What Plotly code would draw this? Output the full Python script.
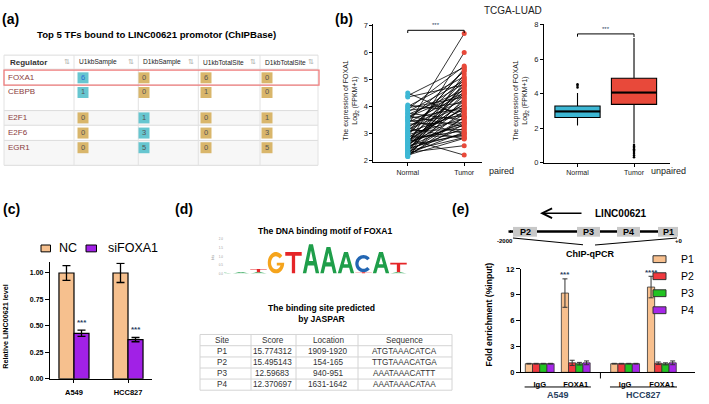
import math
import plotly.graph_objects as go

W, H = 709, 404
FONT = "Arial, Liberation Sans, Helvetica, sans-serif"


def px(x):
    return x / W


def py(y):
    return 1 - y / H


# ======================= DATA =======================
# (a) ChIPBase table
regulators = ["FOXA1", "CEBPB", "E2F1", "E2F6", "EGR1"]
table_a_headers = ["Regulator", "U1kbSample", "D1kbSample", "U1kbTotalSite", "D1kbTotalSite"]
u1kb_sample = [6, 1, 0, 0, 0]
d1kb_sample = [0, 0, 1, 3, 5]
u1kb_total_site = [6, 1, 0, 0, 0]
d1kb_total_site = [0, 0, 1, 3, 5]

# (b) TCGA-LUAD paired (normal -> tumor), log2(FPKM+1)
paired_normal = [3.30, 2.60, 4.40, 3.90, 2.90, 3.50, 2.30, 4.00, 3.10, 2.70,
                 3.80, 2.20, 3.60, 2.50, 3.20, 4.50, 2.40, 3.00, 3.70, 2.80,
                 2.35, 3.40, 2.65, 3.95, 2.15, 3.25, 2.55, 3.85, 2.75, 3.15,
                 2.45, 3.55, 2.85, 2.25, 4.05, 3.05, 2.60, 3.45, 2.30, 2.95,
                 3.75, 2.50, 3.35, 2.20, 2.70, 3.65, 2.40, 3.10, 2.80, 2.25,
                 3.50, 2.55, 2.90, 2.35, 3.20, 2.30, 2.80, 4.35, 3.00, 2.45,
                 2.20, 2.65, 3.60, 2.15, 2.75]
paired_tumor = [6.70, 6.00, 5.45, 5.50, 5.40, 5.30, 5.20, 5.10, 5.05, 5.00,
                4.95, 4.90, 4.85, 4.80, 4.75, 3.60, 4.70, 4.65, 4.60, 4.55,
                4.50, 4.45, 4.40, 4.35, 4.30, 4.25, 4.20, 4.15, 4.10, 4.05,
                4.00, 3.95, 3.90, 3.85, 3.80, 3.75, 3.70, 3.65, 3.60, 3.55,
                3.50, 3.45, 3.40, 3.35, 3.30, 3.25, 3.20, 3.15, 3.10, 3.05,
                3.00, 2.95, 2.90, 2.85, 2.80, 2.55, 2.20, 4.80, 5.35, 3.00,
                2.82, 3.38, 4.50, 3.60, 3.95]
paired_groups = ["Normal", "Tumor"]

# (b) TCGA-LUAD unpaired box plot
box_groups = ["Normal", "Tumor"]
box_q1 = [2.62, 3.38]
box_median = [2.97, 4.06]
box_q3 = [3.28, 4.89]
box_lowerfence = [2.15, 1.11]
box_upperfence = [4.04, 7.22]
normal_outliers = [4.35, 4.45, 4.55]
tumor_outliers = [0.32, 0.42, 0.52, 0.62, 0.70, 0.78, 0.86, 0.94, 1.02]

# (c) qPCR after FOXA1 knockdown
cell_lines = ["A549", "HCC827"]
nc_values = [1.00, 1.00]
nc_err = [0.07, 0.09]
si_values = [0.43, 0.37]
si_err = [0.03, 0.02]
c_ticks = [0.00, 0.25, 0.50, 0.75, 1.00]

# (d) motif logo (position, letter, base in bits, height in bits)
motif_pos = [1, 2, 3, 4, 5, 6, 7, 8, -2, -1, 0, 0, 6, 8]
motif_letter = ["G", "T", "A", "A", "A", "C", "A", "T", "A", "A", "A", "T", "T", "A"]
motif_base = [0.0, 0.0, 0.0, 0.0, 0.0, 0.08, 0.0, 0.08, 0.0, 0.0, 0.0, 0.07, 0.0, 0.0]
motif_height = [1.26, 1.26, 1.72, 1.55, 1.26, 1.0, 1.26, 0.55, 0.05, 0.07, 0.07, 0.2, 0.08, 0.08]
motif_axis_dots = [-1, 0, 1, 2, 3, 4, 5, 6, 7, 8, 9]

# (d) JASPAR table
jaspar_sites = ["P1", "P2", "P3", "P4"]
jaspar_scores = ["15.774312", "15.495143", "12.59683", "12.370697"]
jaspar_locations = ["1909-1920", "154-165", "940-951", "1631-1642"]
jaspar_sequences = ["ATGTAAACATCA", "TTGTAAACATGA", "AAATAAACATTT", "AAATAAACATAA"]
jaspar_headers = ["Site", "Score", "Location", "Sequence"]

# (e) ChIP-qPCR
chip_groups = ["IgG", "FOXA1", "IgG", "FOXA1"]
chip_positions = [0, 1, 2.37, 3.39]
chip_cells = ["A549", "HCC827"]
chip_series = ["P1", "P2", "P3", "P4"]
chip_values = {
    "P1": [1.00, 9.20, 1.00, 9.90],
    "P2": [1.00, 1.10, 1.00, 1.05],
    "P3": [1.00, 1.00, 1.00, 0.98],
    "P4": [1.00, 1.10, 1.00, 1.10],
}
chip_err = {
    "P1": [0.04, 1.65, 0.04, 1.25],
    "P2": [0.04, 0.30, 0.04, 0.15],
    "P3": [0.04, 0.15, 0.04, 0.12],
    "P4": [0.04, 0.22, 0.04, 0.22],
}
chip_stars = ["***", "****"]
e_ticks = [0, 3, 6, 9, 12]

# ======================= STYLE =======================
TEAL = "#67c6d0"
TAN = "#d9b66b"
NORMAL_C = "#3db7d4"
TUMOR_C = "#e8493a"
NC_C = "#f6c08e"
SI_C = "#a121e6"
CHIP_COLORS = {"P1": "#f8c08e", "P2": "#f0393f", "P3": "#22c322", "P4": "#a626e8"}
LOGO_COLORS = {"A": "#1f9e4a", "C": "#2266b3", "G": "#f5a41c", "T": "#e52528"}

fig = go.Figure()
annotations = []
shapes = []


def ann(text, x, y, size, bold=False, color="black", xanchor="center",
        yanchor="middle", textangle=0):
    annotations.append(dict(
        text=text, x=px(x), y=py(y), xref="paper", yref="paper", showarrow=False,
        font=dict(size=size, color=color, family=FONT, weight="bold" if bold else "normal"),
        xanchor=xanchor, yanchor=yanchor, textangle=textangle))


def pline(x0, y0, x1, y1, color="black", width=1, layer="above"):
    shapes.append(dict(type="line", xref="paper", yref="paper", layer=layer,
                       x0=px(x0), y0=py(y0), x1=px(x1), y1=py(y1),
                       line=dict(color=color, width=width)))


def prect(x0, y0, x1, y1, fill=None, color=None, width=0, layer="above"):
    shapes.append(dict(type="rect", xref="paper", yref="paper", layer=layer,
                       x0=px(x0), y0=py(y0), x1=px(x1), y1=py(y1),
                       fillcolor=fill if fill else "rgba(0,0,0,0)",
                       line=dict(color=color if color else "rgba(0,0,0,0)", width=width)))


# panel labels
ann("(a)", 10.5, 15, 14, True)
ann("(b)", 344, 15, 14, True)
ann("(c)", 11.5, 210, 14, True)
ann("(d)", 184, 210, 14, True)
ann("(e)", 460.5, 210, 14, True)

# ======================= (a) =======================
ann("Top 5 TFs bound to LINC00621 promotor (ChIPBase)", 156, 31, 9.6, True)
A_COL_X = [83, 144, 206, 267]
A_ROW_Y = [75.5, 90.5, 116.5, 132, 147]
A_LINES_Y = [52.3, 66.7, 83, 109, 124, 139.5, 165]
A_LINES_X = [4, 74, 138.3, 198.3, 260, 318]
for ry0, ry1 in [(109, 124), (139.5, 165)]:
    prect(4, ry0, 318, ry1, fill="#f7f7f7", layer="below")
for yy in A_LINES_Y:
    pline(4, yy, 318, yy, "#dcdcdc", 1, layer="below")
for xx in A_LINES_X:
    pline(xx, 52.3, xx, 165, "#e2e2e2", 1, layer="below")
prect(4, 67.6, 319, 83, color="#f07d7d", width=1.3)

ann(table_a_headers[0], 8, 59.5, 8, True, "#333", xanchor="left")
for i, h in enumerate(table_a_headers[1:]):
    ann(h, A_LINES_X[i + 1] + 3, 59.5, 6.6, False, "#222", xanchor="left")
for xx in A_LINES_X[1:]:
    ann("⇅", xx - 7, 58.5, 7, False, "#aaaaaa")

badge_x, badge_y, badge_t, badge_c, badge_tc = [], [], [], [], []
cols = [u1kb_sample, d1kb_sample, u1kb_total_site, d1kb_total_site]
for ci, col in enumerate(cols):
    for ri, v in enumerate(col):
        badge_x.append(A_COL_X[ci])
        badge_y.append(A_ROW_Y[ri])
        badge_t.append(str(v))
        is_sample = ci < 2
        badge_c.append(TEAL if (is_sample and v > 0) else TAN)
        badge_tc.append("#2a6fd6" if (ci == 0 and ri == 0) else "#555555")
fig.add_trace(go.Scatter(
    x=badge_x, y=badge_y, mode="markers+text", text=badge_t,
    textposition="middle center", textfont=dict(size=7.5, color=badge_tc, family=FONT),
    marker=dict(symbol="square", size=11, color=badge_c, line=dict(width=0)),
    xaxis="x", yaxis="y", showlegend=False, hoverinfo="skip"))
fig.add_trace(go.Scatter(
    x=[8] * len(regulators), y=A_ROW_Y, mode="text", text=regulators,
    textposition="middle right", textfont=dict(size=8, color="#8a3c3c", family=FONT),
    xaxis="x", yaxis="y", showlegend=False, hoverinfo="skip"))

# ======================= (b) paired =======================
ann("TCGA-LUAD", 512.5, 6.5, 10, False, "#222")
lx, ly = [], []
for n, t in zip(paired_normal, paired_tumor):
    lx += [0, 1, None]
    ly += [n, t, None]
fig.add_trace(go.Scatter(x=lx, y=ly, mode="lines", line=dict(color="black", width=0.8),
                         xaxis="x2", yaxis="y2", showlegend=False, hoverinfo="skip"))
fig.add_trace(go.Scatter(x=[0] * len(paired_normal), y=paired_normal, mode="markers",
                         marker=dict(color=NORMAL_C, size=5), xaxis="x2", yaxis="y2",
                         showlegend=False, hoverinfo="skip"))
fig.add_trace(go.Scatter(x=[1] * len(paired_tumor), y=paired_tumor, mode="markers",
                         marker=dict(color=TUMOR_C, size=5), xaxis="x2", yaxis="y2",
                         showlegend=False, hoverinfo="skip"))
shapes.append(dict(type="path", xref="x2", yref="y2",
                   path="M 0,6.72 L 0,6.82 L 1,6.82 L 1,6.72",
                   line=dict(color="black", width=1)))
annotations.append(dict(text="***", x=0.5, y=6.84, xref="x2", yref="y2", showarrow=False,
                        yanchor="bottom", font=dict(size=6, family=FONT)))
ann("The expression of FOXA1<br>Log<sub>2</sub> (FPKM+1)", 351, 99, 7, False, "#222",
    textangle=-90)
ann("paired", 501, 170.5, 9, False, "#222")

# ======================= (b) box =======================
box_cols = [NORMAL_C, TUMOR_C]
for i in range(2):
    fig.add_trace(go.Box(
        x=[i], q1=[box_q1[i]], median=[box_median[i]], q3=[box_q3[i]],
        lowerfence=[box_lowerfence[i]], upperfence=[box_upperfence[i]],
        fillcolor=box_cols[i], line=dict(color="black", width=1.1), width=0.8,
        whiskerwidth=0, boxpoints=False, xaxis="x3", yaxis="y3", showlegend=False,
        hoverinfo="skip"))
    fig.add_trace(go.Scatter(x=[i - 0.4, i + 0.4], y=[box_median[i]] * 2, mode="lines",
                             line=dict(color="black", width=2), xaxis="x3", yaxis="y3",
                             showlegend=False, hoverinfo="skip"))
fig.add_trace(go.Scatter(x=[0] * len(normal_outliers) + [1] * len(tumor_outliers),
                         y=normal_outliers + tumor_outliers, mode="markers",
                         marker=dict(color="black", size=2.5), xaxis="x3", yaxis="y3",
                         showlegend=False, hoverinfo="skip", cliponaxis=False))
shapes.append(dict(type="path", xref="x3", yref="y3",
                   path="M 0,7.3 L 0,7.46 L 1,7.46 L 1,7.28",
                   line=dict(color="black", width=1)))
annotations.append(dict(text="***", x=0.5, y=7.48, xref="x3", yref="y3", showarrow=False,
                        yanchor="bottom", font=dict(size=6, family=FONT)))
ann("The expression of FOXA1<br>Log<sub>2</sub> (FPKM+1)", 521, 99, 7, False, "#222",
    textangle=-90)
ann("unpaired", 668, 170.5, 9, False, "#222")

# ======================= (c) =======================
C_W = 0.278
fig.add_trace(go.Bar(x=list(range(len(cell_lines))), y=nc_values, width=C_W, offset=-C_W,
                     marker=dict(color=NC_C, line=dict(color="black", width=1.2)),
                     error_y=dict(type="data", array=nc_err, color="black", thickness=1.3, width=4),
                     xaxis="x4", yaxis="y4", showlegend=False, hoverinfo="skip"))
fig.add_trace(go.Bar(x=list(range(len(cell_lines))), y=si_values, width=C_W, offset=0,
                     marker=dict(color=SI_C, line=dict(color="black", width=1.2)),
                     error_y=dict(type="data", array=si_err, color="black", thickness=1.3, width=4),
                     xaxis="x4", yaxis="y4", showlegend=False, hoverinfo="skip"))
for i, (v, e) in enumerate(zip(si_values, si_err)):
    annotations.append(dict(text="***", x=i + C_W / 2, y=v + e + 0.01, xref="x4", yref="y4",
                            showarrow=False, yanchor="bottom",
                            font=dict(size=8, family=FONT, weight="bold")))
# legend
prect(41, 246.5, 50.5, 253.5, fill=NC_C, color="black", width=1)
ann("NC", 57, 250, 12.5, False, "black", xanchor="left")
prect(86, 246.5, 96.5, 253.5, fill=SI_C, color="black", width=1)
ann("siFOXA1", 106, 250, 12.5, False, "black", xanchor="left")
ann("Relative LINC00621 level", 6, 330, 7.2, True, "black", textangle=-90)

# ======================= (d) =======================
ann("The DNA binding motif of FOXA1", 325, 232, 8.6, True)


def arc(cx, cy, rx, ry, a0, a1, n=28):
    pts = []
    for k in range(n + 1):
        a = math.radians(a0 + (a1 - a0) * k / n)
        pts.append((cx + rx * math.cos(a), cy + ry * math.sin(a)))
    return pts


GLYPHS = {
    "T": [[(0, 1), (1, 1), (1, 0.83), (0.6, 0.83), (0.6, 0), (0.4, 0), (0.4, 0.83), (0, 0.83)]],
    "A": [[(0, 0), (0.38, 1), (0.62, 1), (1, 0), (0.79, 0), (0.69, 0.27), (0.31, 0.27), (0.21, 0)],
          [(0.37, 0.43), (0.63, 0.43), (0.5, 0.78)]],
    "C": [arc(0.5, 0.5, 0.5, 0.5, 40, 320) + arc(0.5, 0.5, 0.3, 0.3, 320, 40)],
    "G": [arc(0.5, 0.5, 0.5, 0.5, 40, 360) + [(0.55, 0.5), (0.55, 0.37), (0.78, 0.37)]
          + arc(0.5, 0.5, 0.3, 0.3, 330, 40)],
}
for p, letter, b, h in zip(motif_pos, motif_letter, motif_base, motif_height):
    parts = []
    for poly in GLYPHS[letter]:
        pts = [(p - 0.47 + 0.94 * ux, b + h * uy) for ux, uy in poly]
        parts.append("M " + " L ".join(f"{x:.4f},{y:.4f}" for x, y in pts) + " Z")
    shapes.append(dict(type="path", xref="x5", yref="y5", path=" ".join(parts),
                       fillcolor=LOGO_COLORS[letter], line=dict(width=0), fillrule="evenodd",
                       layer="above"))
fig.add_trace(go.Scatter(x=motif_axis_dots, y=[-0.22] * len(motif_axis_dots), mode="markers",
                         marker=dict(color="#888888", size=1.6), xaxis="x5", yaxis="y5",
                         showlegend=False, hoverinfo="skip", cliponaxis=False))
ann("bits", 213, 259, 3.5, False, "#888", textangle=-90)

ann("The binding site predicted<br>by JASPAR", 321.5, 317, 8.6, True)
# JASPAR table (drawn with lines + text)
T_COL_EDGES = [200, 251, 296, 358, 452]
T_ROW_EDGES = [338, 349.5, 361, 372.3, 383.6, 395]
for yy in T_ROW_EDGES:
    pline(T_COL_EDGES[0], yy, T_COL_EDGES[-1], yy, "#d4d4d4", 1)
for xx in T_COL_EDGES:
    pline(xx, T_ROW_EDGES[0], xx, T_ROW_EDGES[-1], "#d4d4d4", 1)
table_cols = [jaspar_sites, jaspar_scores, jaspar_locations, jaspar_sequences]
T_COL_CX = [222, 272.5, 328, 404]
for ci, (hdr, colvals) in enumerate(zip(jaspar_headers, table_cols)):
    rows = [hdr] + colvals
    for ri, txt in enumerate(rows):
        yc = (T_ROW_EDGES[ri] + T_ROW_EDGES[ri + 1]) / 2
        ann(txt, T_COL_CX[ci], yc, 8.2, False, "#333")

# ======================= (e) =======================
annotations.append(dict(x=px(540), y=py(214), xref="paper", yref="paper", ax=43, ay=0,
                        axref="pixel", ayref="pixel", showarrow=True, arrowhead=5,
                        arrowsize=1.3, arrowwidth=1.5, arrowcolor="black", text=""))
ann("LINC00621", 621, 214, 10, True)
pline(510, 232.7, 678, 232.7, "black", 2.5)
E_BOXES = [("P2", 513, 537), ("P3", 577, 600), ("P4", 617, 640), ("P1", 658, 678)]
for lab, x0, x1 in E_BOXES:
    prect(x0, 228, x1, 238, fill="#c8c8c8")
    ann(lab, (x0 + x1) / 2, 233, 9, True)
prect(508.5, 231.5, 511, 234, fill="black")
ann("-2000", 505, 242.5, 6, True)
ann("+0", 679, 242.5, 6, True)
pline(513, 239.3, 583, 246.3, "black", 1.1)
pline(677, 239.3, 595, 246.5, "black", 1.1)
ann("ChIP-qPCR", 590, 255.5, 9, True)

E_W = 0.2
for k, s in enumerate(chip_series):
    fig.add_trace(go.Bar(
        x=chip_positions, y=chip_values[s], width=E_W, offset=-0.4 + k * E_W,
        marker=dict(color=CHIP_COLORS[s], line=dict(color="#333", width=0.8)),
        error_y=dict(type="data", array=chip_err[s], color="#333", thickness=1, width=2.5),
        xaxis="x6", yaxis="y6", showlegend=False, hoverinfo="skip"))
for gi, st in zip([1, 3], chip_stars):
    v = chip_values["P1"][gi] + chip_err["P1"][gi]
    annotations.append(dict(text=st, x=chip_positions[gi] - 0.3, y=v - 0.3, xref="x6", yref="y6",
                            showarrow=False, yanchor="bottom",
                            font=dict(size=8, family=FONT, weight="bold")))
# legend
for k, s in enumerate(chip_series):
    yc = 261 + k * 17.4
    prect(653, yc - 3.5, 666, yc + 3.5, fill=CHIP_COLORS[s], color="#333", width=1)
    ann(s, 679, yc, 10.5, False, "black", xanchor="left")
ann("Fold enrichment (%input)", 488.5, 318, 8.6, True, textangle=-90)
# group labels
sep = (chip_positions[1] + chip_positions[2]) / 2
shapes.append(dict(type="line", xref="x6", yref="paper", x0=sep, x1=sep,
                   y0=py(376.7), y1=py(383), line=dict(color="black", width=1)))
for gi, (a, b) in enumerate([(0, 1), (2, 3)]):
    shapes.append(dict(type="line", xref="x6", yref="paper",
                       x0=chip_positions[a] - 0.42, x1=chip_positions[b] + 0.42,
                       y0=py(391.7), y1=py(391.7), line=dict(color="black", width=1)))
    annotations.append(dict(text=chip_cells[gi],
                            x=(chip_positions[a] + chip_positions[b]) / 2,
                            y=py(400), xref="x6", yref="paper", showarrow=False,
                            yanchor="middle", font=dict(size=9, family=FONT, weight="bold")))

# ======================= LAYOUT =======================
def std_axis(**kw):
    d = dict(showline=True, linecolor="black", linewidth=1, ticks="outside", ticklen=3,
             tickcolor="black", showgrid=False, zeroline=False, fixedrange=True,
             tickfont=dict(size=7, family=FONT, color="#222"))
    d.update(kw)
    return d


fig.update_layout(
    width=W, height=H, margin=dict(l=0, r=0, t=0, b=0),
    paper_bgcolor="white", plot_bgcolor="rgba(0,0,0,0)",
    font=dict(family=FONT),
    xaxis=dict(domain=[0, 1], range=[0, W], visible=False, fixedrange=True),
    yaxis=dict(domain=[0, 1], range=[H, 0], visible=False, fixedrange=True),
    # paired
    xaxis2=std_axis(domain=[px(373.3), px(481.7)], range=[-0.61, 1.31], anchor="y2",
                    tickvals=[0, 1], ticktext=paired_groups),
    yaxis2=std_axis(domain=[py(162), py(20)], range=[1.93, 7.07], anchor="x2",
                    tickvals=[2, 3, 4, 5, 6, 7], tickfont=dict(size=7.5, family=FONT, color="#222")),
    # box
    xaxis3=std_axis(domain=[px(544), px(670)], range=[-0.593, 1.637], anchor="y3",
                    tickvals=[0, 1], ticktext=box_groups),
    yaxis3=std_axis(domain=[py(162.3), py(20)], range=[0, 8.06], anchor="x3",
                    tickvals=[0, 2, 4, 6, 8], tickfont=dict(size=7.5, family=FONT, color="#222")),
    # (c)
    xaxis4=std_axis(domain=[px(50), px(152)], range=[-0.444, 1.444], anchor="y4",
                    tickvals=[0, 1], ticktext=cell_lines, ticks="outside", ticklen=3,
                    tickwidth=1.3, linewidth=1.3, ticklabelstandoff=3,
                    tickfont=dict(size=7.5, family=FONT, color="black", weight="bold")),
    yaxis4=std_axis(domain=[py(383.3), py(264.3)], range=[0, 1.1], anchor="x4",
                    tickvals=c_ticks, tickformat=".2f", ticklen=4, linewidth=1.3, tickwidth=1.3,
                    tickfont=dict(size=7, family=FONT, color="black", weight="bold")),
    # (d) logo
    xaxis5=dict(domain=[px(224), px(416)], range=[-1.97, 9.0], anchor="y5", visible=False,
                fixedrange=True),
    yaxis5=dict(domain=[py(275.7), py(240.7)], range=[0, 2], anchor="x5", showline=False,
                showgrid=False, zeroline=False, tickvals=[0, 0.5, 1, 1.5, 2],
                ticktext=["0.0", "0.5", "1.0", "1.5", "2.0"], ticks="",
                tickfont=dict(size=3, color="#999", family=FONT), fixedrange=True),
    # (e)
    xaxis6=std_axis(domain=[px(521), px(695)], range=[-0.52, 4.31], anchor="y6",
                    tickvals=chip_positions, ticktext=chip_groups, ticks="", linewidth=1.3,
                    ticklabelstandoff=5,
                    tickfont=dict(size=7.5, family=FONT, color="black", weight="bold")),
    yaxis6=std_axis(domain=[py(376.7), py(271)], range=[0, 12], anchor="x6",
                    tickvals=e_ticks, ticklen=4, linewidth=1.3, tickwidth=1.3,
                    tickfont=dict(size=7.5, family=FONT, color="black", weight="bold")),
    annotations=annotations,
    shapes=shapes,
)

fig.write_html("out.html", config={"displayModeBar": False},
               post_script="document.body.style.margin='0px';document.body.style.overflow='hidden';")
